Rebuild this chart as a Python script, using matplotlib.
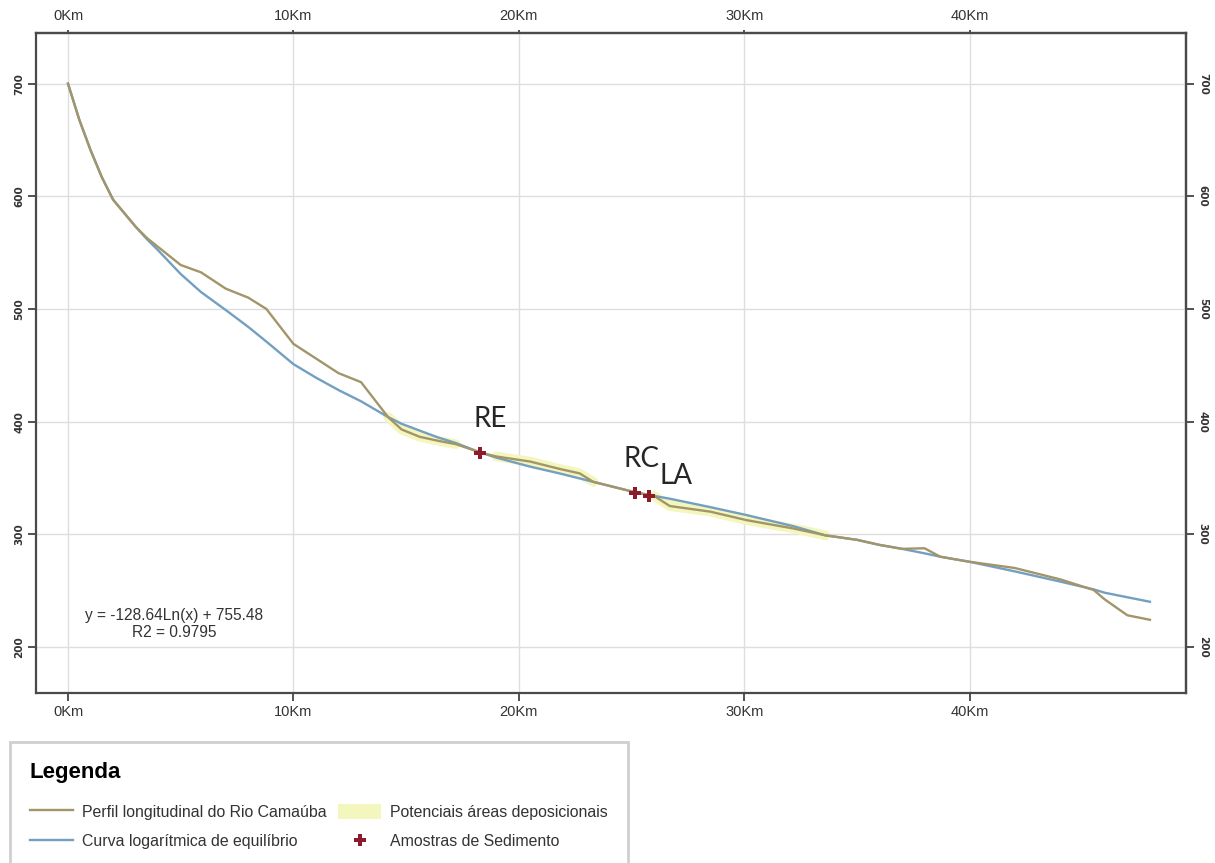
import numpy as np
import matplotlib
matplotlib.use('Agg')
import matplotlib.pyplot as plt
from matplotlib.lines import Line2D
from matplotlib.patches import Patch

plt.rcParams['font.family'] = ['Liberation Sans', 'DejaVu Sans']

km = np.array([0, 0.5, 1, 1.5, 2, 3, 3.5, 4, 5, 5.9, 7, 8, 8.8, 10, 11, 12, 13,
               14.2, 14.8, 15.6, 16.4, 17.2, 18.3, 19, 20.5, 21.8, 22.7, 23.3,
               24.2, 25.2, 26, 26.7, 28.5, 30.1, 32.2, 33.6, 35, 36, 37, 38,
               38.7, 40, 42, 44, 45.5, 46, 47, 48])
perfil = np.array([700, 668, 641, 617, 597, 573, 563, 555, 539, 532.5, 518, 510,
                   500, 469, 456, 443, 435, 404, 393, 386.5, 383, 380, 372.5,
                   369, 364.5, 358, 354, 346.5, 342, 337, 334, 325, 320, 312.5,
                   305, 299, 295, 290.5, 287, 287.5, 280, 275.5, 270, 260,
                   250.5, 242, 228, 224])
curva = np.array([700, 668, 641, 617, 597, 573, 562, 552, 531, 515, 499, 484,
                  471, 451, 439, 428, 418, 404, 398, 392, 386, 381, 372.5, 368,
                  360, 354, 349.5, 346.5, 342, 337, 334, 331.5, 324, 317, 307,
                  299, 295, 290.5, 287, 283, 280, 275.5, 267, 258, 251, 248,
                  244, 240])

# trechos marcados como potenciais áreas deposicionais (km)
zonas = [(14.2, 17.2), (19.0, 23.3), (25.8, 33.6)]

# amostras de sedimento
amostras_km = [18.3, 25.16, 25.78]
amostras_alt = [372.5, 336.2, 333.8]
amostras_nome = ['RE', 'RC', 'LA']
amostras_offset = [(6.8, 18.5), (4.3, 18.7), (19.2, 8.4)]  # pontos

xticks = [0, 10, 20, 30, 40]
xlabels = ['0Km', '10Km', '20Km', '30Km', '40Km']
yticks = [200, 300, 400, 500, 600, 700]

cor_perfil = '#a3956a'
cor_curva = '#739fc0'
cor_dep = '#f4f7bd'
cor_amostra = '#8c1c2c'
cor_eixo = '#4a4a4a'
cor_texto = '#333333'

fig = plt.figure(figsize=(12.15, 8.63), dpi=100)
ax = fig.add_axes([36/1215, 1 - 693/863, 1150/1215, 660/863])

# áreas deposicionais
for a, b in zonas:
    m = (km >= a) & (km <= b)
    ax.plot(km[m], perfil[m], color=cor_dep, lw=7, solid_capstyle='round',
            zorder=2)
    ax.fill_between(km[m], perfil[m], curva[m], facecolor=cor_dep,
                    edgecolor='none', zorder=2)
ax.plot(km, curva, color=cor_curva, lw=1.7, zorder=3)
ax.plot(km, perfil, color=cor_perfil, lw=1.7, zorder=4)
ax.plot(amostras_km, amostras_alt, 'P', color=cor_amostra, ms=8.5, mew=0, zorder=5)

for x, y, nome, off in zip(amostras_km, amostras_alt, amostras_nome, amostras_offset):
    ax.annotate(nome, (x, y), xytext=off, textcoords='offset points',
                ha='center', va='baseline', fontsize=20, color='#262626',
                family=['Lato', 'DejaVu Sans'])

ax.text(4.72, 220, 'y = -128.64Ln(x) + 755.48\nR2 = 0.9795', ha='center',
        va='center', fontsize=11.2, color=cor_texto, linespacing=1.15)

ax.set_xlim(-1.42, 49.6)
ax.set_ylim(159, 745)
ax.set_xticks(xticks)
ax.set_xticklabels(xlabels)
ax.set_yticks(yticks)
ax.grid(True, color='#dedede', lw=1)
ax.set_axisbelow(True)

ax.tick_params(axis='x', length=5.5, width=1.2, color=cor_texto,
               labelsize=10.5, labelcolor=cor_texto, pad=3)
ax.tick_params(axis='y', length=5.5, width=1.2, color=cor_texto,
               labelsize=7.5, labelcolor=cor_texto, pad=3)
for lbl in ax.get_yticklabels():
    lbl.set_rotation(90)
    lbl.set_va('center')
    lbl.set_family(['DejaVu Sans'])
    lbl.set_fontweight('bold')

topo = ax.secondary_xaxis('top')
topo.set_xticks(xticks, xlabels)
topo.tick_params(length=2.5, width=1.2, color=cor_texto, labelsize=10.5,
                 labelcolor=cor_texto, pad=5)

direita = ax.secondary_yaxis('right')
direita.set_yticks(yticks)
direita.tick_params(length=5.5, width=1.2, color=cor_texto, labelsize=7.5,
                    labelcolor=cor_texto, pad=3)
for lbl in direita.get_yticklabels():
    lbl.set_rotation(270)
    lbl.set_va('center')
    lbl.set_family(['DejaVu Sans'])
    lbl.set_fontweight('bold')

for eixo in (ax, topo, direita):
    for s in eixo.spines.values():
        s.set_color(cor_eixo)
        s.set_linewidth(1.6)

handles = [
    Line2D([], [], color=cor_perfil, lw=1.7),
    Line2D([], [], color=cor_curva, lw=1.7),
    Patch(facecolor=cor_dep, edgecolor='none'),
    Line2D([], [], ls='none', marker='P', color=cor_amostra, ms=8.5, mew=0),
]
labels = ['Perfil longitudinal do Rio Camaúba', 'Curva logarítmica de equilíbrio',
          'Potenciais áreas deposicionais', 'Amostras de Sedimento']
leg = fig.legend(handles, labels, loc='upper left',
                 bbox_to_anchor=(10/1215, 1 - 742/863), ncol=2,
                 title='Legenda', alignment='left', fontsize=11.4,
                 title_fontproperties={'size': 16, 'weight': 'bold'},
                 handlelength=2.75, handleheight=1.1, handletextpad=0.55,
                 columnspacing=0.7, labelspacing=0.85, borderpad=1.25,
                 frameon=True, fancybox=False, edgecolor='#c4c4c4',
                 borderaxespad=0)
leg._legend_box.sep = 15
leg.get_frame().set_linewidth(2)
for txt in leg.get_texts():
    txt.set_color(cor_texto)

fig.savefig('out.png', dpi=100)
